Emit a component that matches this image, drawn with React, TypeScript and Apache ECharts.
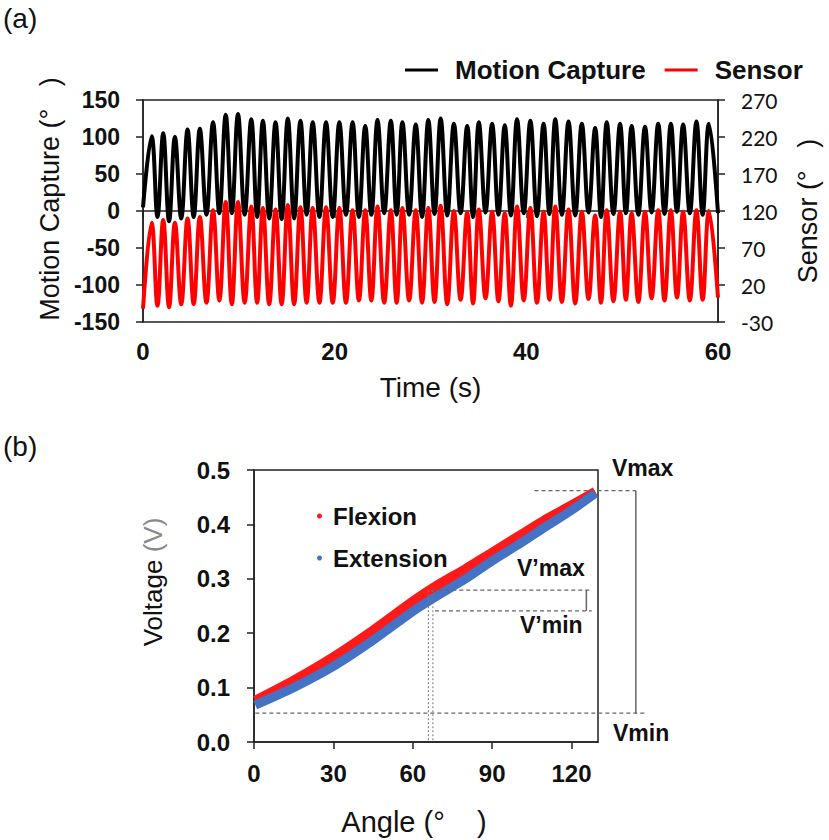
import React, { useEffect, useRef } from "react";
import * as echarts from "echarts";

// ---------- (a) time series: extrema ----------
const peakTimes = [0.9, 2.11, 3.33, 4.65, 5.93, 7.31, 8.63, 9.91, 11.3, 12.51, 13.83, 15.11, 16.43, 17.71, 19.1, 20.49, 21.87, 23.19, 24.47, 25.86, 27.07, 28.46, 29.77, 31.06, 32.44, 33.83, 35.04, 36.43, 37.75, 39.03, 40.42, 41.8, 43.02, 44.4, 45.79, 47.18, 48.39, 49.78, 50.99, 52.38, 53.76, 55.08, 56.36, 57.75, 59.05];
const troughTimes = [1.51, 2.72, 3.99, 5.29, 6.62, 7.97, 9.27, 10.61, 11.91, 13.17, 14.47, 15.77, 17.07, 18.41, 19.8, 21.18, 22.53, 23.83, 25.17, 26.47, 27.77, 29.12, 30.42, 31.75, 33.14, 34.44, 35.74, 37.09, 38.39, 39.73, 41.11, 42.41, 43.71, 45.1, 46.49, 47.79, 49.09, 50.39, 51.69, 53.07, 54.42, 55.72, 57.06, 58.4];
const motionPeaks = [101, 105, 100, 110, 111, 120, 130, 131, 124, 122, 120, 125, 122, 120, 120, 120, 120, 115, 123, 122, 120, 117, 123, 125, 118, 115, 120, 118, 116, 124, 122, 118, 124, 121, 118, 112, 120, 118, 115, 114, 118, 118, 117, 121, 118];
const motionTroughs = [-8, -14, -10, -8, -5, -3, -3, -5, -8, -10, -11, -10, -5, -8, -8, -5, -8, -5, -3, -5, -5, -8, -4, -6, -3, -8, -2, -5, -6, -3, -7, -4, -5, -6, -2, -8, -4, -3, -5, -2, -4, -1, -3, -5];
const sensorPeaks = [104, 108, 104, 110, 112, 121, 132, 132, 126, 124, 122, 128, 125, 124, 125, 124, 121, 121, 126, 121, 124, 121, 124, 127, 120, 118, 122, 119, 117, 126, 124, 119, 126, 122, 119, 114, 121, 119, 117, 119, 121, 121, 119, 121, 120];
const sensorTroughs = [-8, -10, -6, -6, -4, -1, -6, -4, -4, -6, -6, -6, -4, -4, -4, -4, -1, -1, -4, -4, -1, -4, -3, -6, 0, -5, 2, -2, -8, -1, -4, 0, -3, -5, 1, -4, -2, 0, -3, 2, -1, 3, -1, 0];
const motionEnds = [[0, 5], [60, -3]];
const sensorEnds = [[0, -12], [60, 3]];
const timeTicks = [0, 20, 40, 60];
const motionTicks = [-150, -100, -50, 0, 50, 100, 150];
const sensorTicks = [-30, 20, 70, 120, 170, 220, 270];

// ---------- (b) voltage vs angle ----------
const bandAngles = [0.5, 15, 30, 45, 60, 68, 80, 90, 100, 110, 120, 129];
const flexionVoltage = [0.076, 0.113, 0.156, 0.205, 0.258, 0.284, 0.318, 0.348, 0.378, 0.408, 0.435, 0.46];
const extensionVoltage = [0.068, 0.1, 0.139, 0.187, 0.24, 0.265, 0.3, 0.333, 0.363, 0.395, 0.426, 0.457];
const angleTicks = [0, 30, 60, 90, 120];
const voltageTicks = [0, 0.1, 0.2, 0.3, 0.4, 0.5];
// annotation levels (V) and angles (deg)
const vLevels = [0.462, 0.053, 0.279, 0.241]; // Vmax, Vmin, V'max, V'min
const annotAngles = [106, 144.3, 148.5, 67, 68.4, 127.6, 125.6, 65.9, 67.6];

const FONT = "'Liberation Sans', Arial, sans-serif";
const AX = "#222";

function buildWave(peaks: number[], troughs: number[], ends: number[][]) {
  const pts: number[][] = [ends[0]];
  for (let i = 0; i < peakTimes.length; i++) {
    pts.push([peakTimes[i], peaks[i]]);
    if (i < troughTimes.length) pts.push([troughTimes[i], troughs[i]]);
  }
  pts.push(ends[1]);
  return pts;
}

export default function App() {
  const ref = useRef<HTMLDivElement>(null);
  useEffect(() => {
    document.body.style.margin = "0";
    const chart = echarts.init(ref.current!, null, { renderer: "svg" });
    const axisLine = { show: true, lineStyle: { color: AX, width: 1.5 } };
    const tick = { show: true, inside: false, length: 7, lineStyle: { color: AX, width: 1.5 } };
    const boldLabel = (size: number, margin: number) => ({
      fontFamily: FONT, fontWeight: "bold", fontSize: size, color: "#111", margin,
    });
    const option: any = {
      animation: false,
      backgroundColor: "#fff",
      grid: [
        { left: 143, top: 100, width: 577, height: 222, show: true, borderColor: AX, borderWidth: 1.5 },
        { left: 254, top: 470, width: 344, height: 272, show: true, borderColor: AX, borderWidth: 1.5 },
      ],
      legend: [
        {
          left: 400, top: 52, itemWidth: 33, itemHeight: 3, itemGap: 19,
          textStyle: { fontFamily: FONT, fontWeight: "bold", fontSize: 26, color: "#111", padding: [0, 0, 0, 12] },
          data: [{ name: "Motion Capture", icon: "rect" }, { name: "Sensor", icon: "rect" }],
        },
        {
          orient: "vertical", left: 312, top: 499, itemWidth: 5, itemHeight: 5, itemGap: 18,
          textStyle: { fontFamily: FONT, fontWeight: "bold", fontSize: 24, color: "#111", padding: [0, 0, 0, 6] },
          data: [{ name: "Flexion", icon: "circle" }, { name: "Extension", icon: "circle" }],
        },
      ],
      xAxis: [
        {
          gridIndex: 0, type: "value", min: 0, max: 60,
          axisLine, axisTick: { ...tick, customValues: timeTicks },
          axisLabel: { ...boldLabel(24, 17), customValues: timeTicks },
          splitLine: { show: false },
          name: "Time (s)", nameLocation: "middle", nameGap: 51,
          nameTextStyle: { fontFamily: FONT, fontSize: 28, color: "#111" },
        },
        {
          gridIndex: 1, type: "value", min: 0, max: 130,
          axisLine, axisTick: { ...tick, customValues: angleTicks },
          axisLabel: { ...boldLabel(24, 19), customValues: angleTicks },
          splitLine: { show: false },
          name: "Angle (°\u00a0\u00a0\u00a0\u00a0)", nameLocation: "middle", nameGap: 65,
          nameTextStyle: { fontFamily: FONT, fontSize: 29, color: "#111", padding: [0, 24, 0, 0] },
        },
      ],
      yAxis: [
        {
          gridIndex: 0, type: "value", position: "left", min: -150, max: 150,
          axisLine, axisTick: { ...tick, customValues: motionTicks },
          axisLabel: { ...boldLabel(23, 23), customValues: motionTicks },
          splitLine: { show: false },
          name: "Motion Capture (°\u00a0\u00a0\u00a0)", nameLocation: "middle", nameGap: 79,
          nameTextStyle: { fontFamily: FONT, fontSize: 27, color: "#111", padding: [0, 0, 0, 24] },
        },
        {
          gridIndex: 0, type: "value", position: "right", min: -30, max: 270, alignTicks: false,
          axisLine, axisTick: { ...tick, customValues: sensorTicks },
          axisLabel: { fontFamily: "Lato, 'Open Sans', sans-serif", fontSize: 21, color: "#111", margin: 23, customValues: sensorTicks },
          splitLine: { show: false },
          name: "Sensor (°\u00a0\u00a0\u00a0)", nameLocation: "middle", nameGap: 76,
          nameTextStyle: { fontFamily: FONT, fontSize: 27, color: "#111" },
        },
        {
          gridIndex: 1, type: "value", min: 0, max: 0.5,
          axisLine, axisTick: { ...tick, customValues: voltageTicks },
          axisLabel: { ...boldLabel(24, 24), customValues: voltageTicks, formatter: (v: number) => v.toFixed(1) },
          splitLine: { show: false },
          name: "{a|Voltage }{b|(V)}", nameLocation: "middle", nameGap: 88,
          nameTextStyle: {
            fontFamily: FONT, fontSize: 26, padding: [0, 0, 0, 48],
            rich: {
              a: { fontFamily: FONT, fontSize: 26, color: "#111" },
              b: { fontFamily: FONT, fontSize: 26, color: "#8a8a8a" },
            },
          },
        },
      ],
      series: [
        {
          name: "Motion Capture", type: "line", xAxisIndex: 0, yAxisIndex: 0,
          data: buildWave(motionPeaks, motionTroughs, motionEnds),
          smooth: 0.4, symbol: "none", color: "#000",
          lineStyle: { color: "#000", width: 4 },
        },
        {
          name: "Sensor", type: "line", xAxisIndex: 0, yAxisIndex: 1,
          data: buildWave(sensorPeaks, sensorTroughs, sensorEnds),
          smooth: 0.4, symbol: "none", color: "#ff0000",
          lineStyle: { color: "#ff0000", width: 4 },
        },
        {
          name: "Flexion", type: "line", xAxisIndex: 1, yAxisIndex: 2,
          data: bandAngles.map((a, i) => [a, flexionVoltage[i]]),
          smooth: 0.3, symbol: "none", color: "#ff1a1a",
          lineStyle: { color: "#ff1a1a", width: 10 },
        },
        {
          name: "Extension", type: "line", xAxisIndex: 1, yAxisIndex: 2,
          data: bandAngles.map((a, i) => [a, extensionVoltage[i]]),
          smooth: 0.3, symbol: "none", color: "#4472c4",
          lineStyle: { color: "#4472c4", width: 9 },
        },
      ],
    };
    chart.setOption(option);

    const px = (a: number, v: number) => chart.convertToPixel({ gridIndex: 1 } as any, [a, v]) as number[];
    const dashed = { stroke: "#666", lineWidth: 1.3, lineDash: [4, 3] };
    const dotted = { stroke: "#777", lineWidth: 1, lineDash: [2, 2] };
    const solid = { stroke: "#666", lineWidth: 1.5 };
    const seg = (a1: number, v1: number, a2: number, v2: number, style: any) => {
      const p = px(a1, v1);
      const q = px(a2, v2);
      return { type: "line", silent: true, z: 20, shape: { x1: p[0], y1: p[1], x2: q[0], y2: q[1] }, style };
    };
    const [vmax, vmin, vpmax, vpmin] = vLevels;
    const [aVmaxFrom, aRange, aVminTo, aVpmaxFrom, aVpminFrom, aVpTo, aBracket, aDot1, aDot2] = annotAngles;
    const label = (text: string, x: number, y: number, size: number, bold: boolean) => ({
      type: "text", silent: true, z: 20, x, y,
      style: { text, fontFamily: FONT, fontSize: size, fontWeight: bold ? "bold" : "normal", fill: "#111", textAlign: "left", textVerticalAlign: "middle" },
    });
    chart.setOption({
      graphic: [
        seg(aVmaxFrom, vmax, aRange, vmax, dashed),
        seg(0.5, vmin, aVminTo, vmin, dashed),
        seg(aRange, vmax, aRange, vmin, solid),
        seg(aVpmaxFrom, vpmax, aVpTo, vpmax, dashed),
        seg(aVpminFrom, vpmin, aVpTo, vpmin, dashed),
        seg(aBracket, vpmax, aBracket, vpmin, solid),
        seg(aDot1, vpmax, aDot1, 0, dotted),
        seg(aDot2, vpmax, aDot2, 0, dotted),
        label("(a)", 3, 18, 28, false),
        label("(b)", 3, 446, 28, false),
        label("Vmax", 612, 468, 23, true),
        label("V\u2019max", 517, 568, 23, true),
        label("V\u2019min", 520, 625, 23, true),
        label("Vmin", 613, 733, 23, true),
      ],
    });
    return () => chart.dispose();
  }, []);
  return <div ref={ref} style={{ width: 829, height: 840 }} />;
}
